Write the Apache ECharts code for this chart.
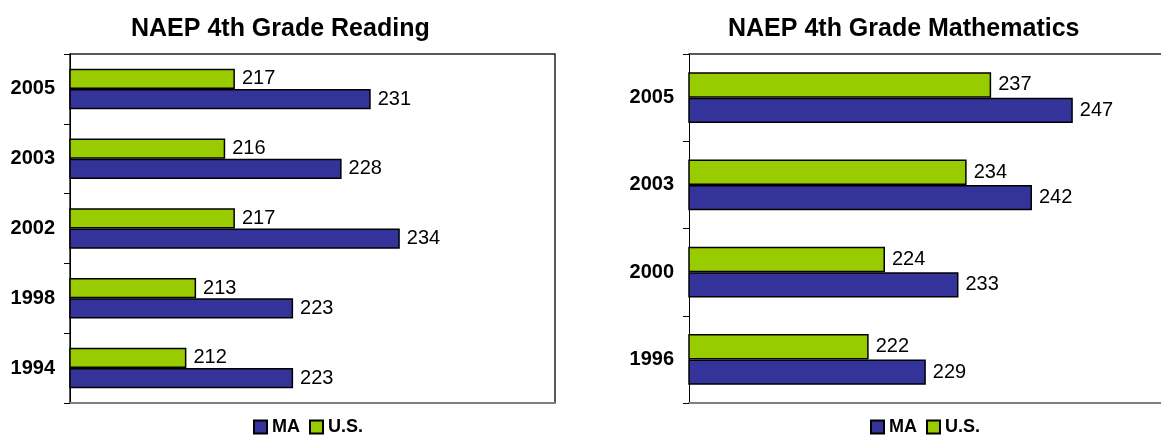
<!DOCTYPE html>
<html>
<head>
<meta charset="utf-8">
<script src="https://cdn.jsdelivr.net/npm/echarts@6/dist/echarts.min.js"></script>
<style>
html,body{margin:0;padding:0;background:#fff;}
#c{width:1161px;height:435px;}
</style>
</head>
<body>
<div id="c"></div>
<script>
// Data
const readingYears = ['1994', '1998', '2002', '2003', '2005'];
const readingMA = [223, 223, 234, 228, 231];
const readingUS = [212, 213, 217, 216, 217];

const mathYears = ['1996', '2000', '2003', '2005'];
const mathMA = [229, 233, 242, 247];
const mathUS = [222, 224, 234, 237];

const titles = ['NAEP 4th Grade Reading', 'NAEP 4th Grade Mathematics'];
const seriesNames = ['MA', 'U.S.'];

const FONT = '"Liberation Sans", Arial, sans-serif';
const BLUE = '#333399';
const GREEN = '#99CC00';

const chart = echarts.init(document.getElementById('c'));

function yAx(idx, cats) {
  return {
    type: 'category', gridIndex: idx, data: cats,
    axisLine: { show: true, lineStyle: { color: '#000', width: 1 } },
    axisTick: { show: true, length: 6, lineStyle: { color: '#000', width: 1 } },
    axisLabel: { color: '#000', fontFamily: FONT, fontWeight: 'bold', fontSize: 20, margin: 15 },
    splitLine: { show: false }
  };
}
function xAx(idx, max, pos, color, width) {
  return {
    type: 'value', gridIndex: idx, min: 200, max: max, position: pos,
    axisLine: { show: true, onZero: false, lineStyle: { color: color, width: width } },
    axisTick: { show: false }, axisLabel: { show: false }, splitLine: { show: false }
  };
}
function bar(name, idx, data, color) {
  return {
    name: name, type: 'bar', xAxisIndex: idx, yAxisIndex: idx, data: data,
    barWidth: '29%', barGap: '0%',
    itemStyle: { color: color, borderColor: '#000', borderWidth: 1.5 },
    label: { show: true, position: 'right', distance: 7, color: '#000', fontFamily: FONT, fontSize: 20 },
    emphasis: { disabled: true }, animation: false
  };
}
function legend(left) {
  return {
    data: seriesNames, left: left, top: 418, orient: 'horizontal', padding: 0,
    icon: 'rect', itemWidth: 13, itemHeight: 13, itemGap: 9,
    textStyle: { color: '#000', fontFamily: FONT, fontWeight: 'bold', fontSize: 18 },
    selectedMode: false
  };
}

chart.setOption({
  animation: false,
  backgroundColor: '#fff',
  title: [
    { text: titles[0], left: 131, top: 17, padding: 0, textStyle: { fontFamily: FONT, fontWeight: 'bold', fontSize: 25, color: '#000' } },
    { text: titles[1], left: 728, top: 17, padding: 0, textStyle: { fontFamily: FONT, fontWeight: 'bold', fontSize: 25, color: '#000' } }
  ],
  legend: [legend(253), legend(870)],
  grid: [
    { left: 70, top: 54, width: 485, height: 349, show: true, borderColor: '#222', borderWidth: 1.5, containLabel: false },
    { left: 689, top: 54, right: 0, height: 349, show: false, containLabel: false }
  ],
  xAxis: [
    xAx(0, 250, 'bottom', '#808080', 2),
    xAx(1, 257.8, 'bottom', '#808080', 2),
    xAx(1, 257.8, 'top', '#222', 1.5)
  ],
  yAxis: [yAx(0, readingYears), yAx(1, mathYears)],
  series: [
    bar(seriesNames[1], 0, readingUS, GREEN),
    bar(seriesNames[0], 0, readingMA, BLUE),
    bar(seriesNames[1], 1, mathUS, GREEN),
    bar(seriesNames[0], 1, mathMA, BLUE)
  ]
});
</script>
</body>
</html>
